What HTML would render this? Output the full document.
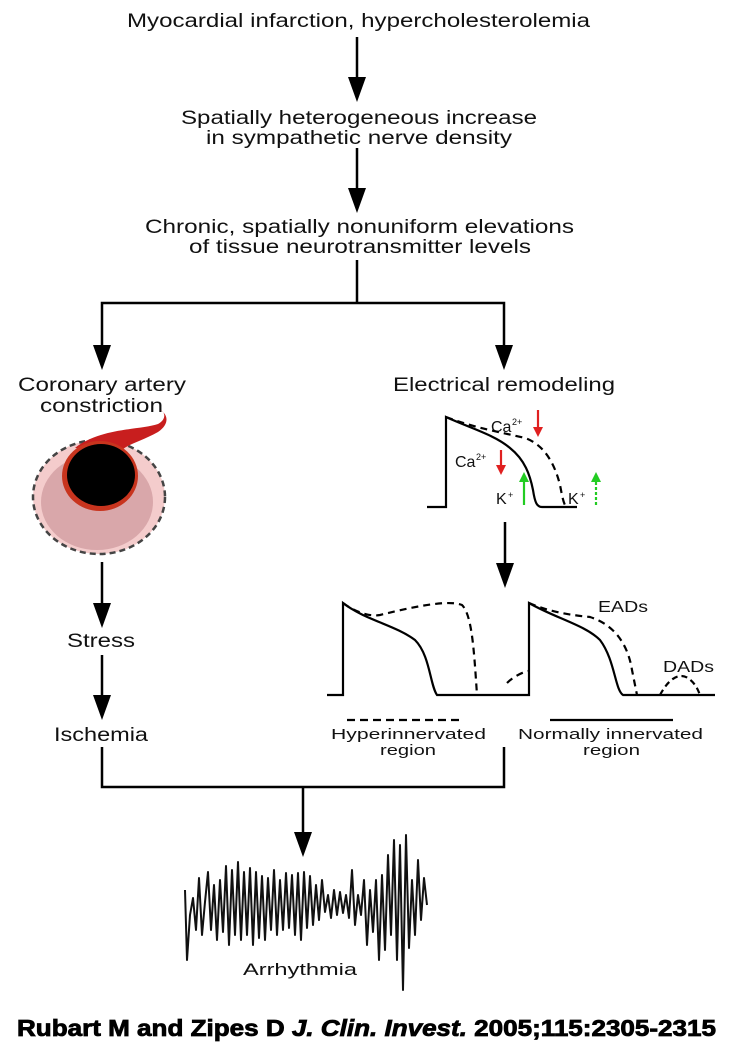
<!DOCTYPE html>
<html><head><meta charset="utf-8"><style>
html,body{margin:0;padding:0;background:#fff;}
svg{display:block;}
text{font-family:"Liberation Sans",Arial,sans-serif;fill:#111;}
</style></head><body>
<svg width="732" height="1050" viewBox="0 0 732 1050" xmlns="http://www.w3.org/2000/svg">
<g font-size="19" text-anchor="start">
<text x="127" y="27" textLength="463" lengthAdjust="spacingAndGlyphs">Myocardial infarction, hypercholesterolemia</text>
<text x="181" y="124" textLength="356" lengthAdjust="spacingAndGlyphs">Spatially heterogeneous increase</text>
<text x="206" y="144" textLength="306" lengthAdjust="spacingAndGlyphs">in sympathetic nerve density</text>
<text x="145" y="233" textLength="429" lengthAdjust="spacingAndGlyphs">Chronic, spatially nonuniform elevations</text>
<text x="189" y="253" textLength="342" lengthAdjust="spacingAndGlyphs">of tissue neurotransmitter levels</text>
<text x="18" y="391" textLength="168" lengthAdjust="spacingAndGlyphs">Coronary artery</text>
<text x="40" y="412" textLength="123" lengthAdjust="spacingAndGlyphs">constriction</text>
<text x="393" y="391" textLength="222" lengthAdjust="spacingAndGlyphs">Electrical remodeling</text>
<text x="67" y="647" textLength="68" lengthAdjust="spacingAndGlyphs">Stress</text>
<text x="54" y="741" textLength="94" lengthAdjust="spacingAndGlyphs">Ischemia</text>
</g>
<g font-size="15">
<text x="331" y="739" textLength="155" lengthAdjust="spacingAndGlyphs">Hyperinnervated</text>
<text x="380" y="755" textLength="56" lengthAdjust="spacingAndGlyphs">region</text>
<text x="518" y="739" textLength="185" lengthAdjust="spacingAndGlyphs">Normally innervated</text>
<text x="583" y="755" textLength="57" lengthAdjust="spacingAndGlyphs">region</text>
<text x="598" y="612" font-size="16" textLength="50" lengthAdjust="spacingAndGlyphs">EADs</text>
<text x="663" y="672" font-size="16" textLength="51" lengthAdjust="spacingAndGlyphs">DADs</text>
<text x="491" y="432" font-size="16">Ca</text><text x="512" y="425" font-size="9">2+</text>
<text x="455" y="467" font-size="16">Ca</text><text x="476" y="460" font-size="9">2+</text>
<text x="496" y="504" font-size="16">K</text><text x="508" y="498" font-size="9">+</text>
<text x="568" y="504" font-size="16">K</text><text x="580" y="498" font-size="9">+</text>
<text x="243" y="975" font-size="17" textLength="114" lengthAdjust="spacingAndGlyphs">Arrhythmia</text>
<text x="17" y="1036" font-size="23" font-weight="bold" textLength="699" lengthAdjust="spacingAndGlyphs" stroke="#000" stroke-width="0.8" style="fill:#000">Rubart M and Zipes D <tspan font-style="italic">J. Clin. Invest.</tspan> 2005;115:2305-2315</text>
</g>

<g stroke="#000" stroke-width="2.5" fill="none">
<line x1="357" y1="37" x2="357" y2="80"/>
<line x1="357" y1="148" x2="357" y2="190"/>
<polyline points="357,260 357,303"/>
<polyline points="102,350 102,303 504,303 504,350"/>
<line x1="102" y1="562" x2="102" y2="605"/>
<line x1="102" y1="655" x2="102" y2="697"/>
<polyline points="102,747 102,787 504,787 504,747"/>
<line x1="303" y1="787" x2="303" y2="835"/>
<line x1="505" y1="522" x2="505" y2="565"/>
</g>
<g fill="#000">
<polygon points="348,77 366,77 357,102"/>
<polygon points="348,188 366,188 357,213"/>
<polygon points="93,345 111,345 102,370"/>
<polygon points="495,345 513,345 504,370"/>
<polygon points="93,603 111,603 102,628"/>
<polygon points="93,695 111,695 102,720"/>
<polygon points="294,832 312,832 303,857"/>
<polygon points="496,563 514,563 505,588"/>
</g>

<ellipse cx="99" cy="497" rx="66" ry="57" fill="#f4cccc" stroke="#444" stroke-width="2.5" stroke-dasharray="6,4"/>
<ellipse cx="97" cy="502" rx="56" ry="48" fill="#d9a7aa"/>
<path d="M75,448 C100,428 140,430 158,424 C166,420 166,412 160,410 C168,414 170,424 158,432 C140,442 125,445 120,452 Z" fill="#c81e1e"/>
<ellipse cx="100" cy="476" rx="38" ry="35" fill="#c8341e"/>
<ellipse cx="101" cy="475" rx="34" ry="31" fill="#000"/>

<g stroke="#000" stroke-width="2.2" fill="none">
<path d="M427,507 L446,507 L446,417 C470,428 495,435 510,448 C525,460 530,475 533,490 C535,503 537,507 542,507 L577,507"/>
<path d="M446,417 C475,428 500,432 525,438 C545,445 555,465 560,485 C562,495 563,502 566,507" stroke-dasharray="7,5"/>
</g>
<g stroke-width="2.2" fill="none">
<line x1="538" y1="410" x2="538" y2="430" stroke="#e02020"/>
<line x1="501" y1="450" x2="501" y2="468" stroke="#e02020"/>
<line x1="524" y1="505" x2="524" y2="480" stroke="#22cc22"/>
<line x1="596" y1="505" x2="596" y2="480" stroke="#22cc22" stroke-dasharray="3,2"/>
</g>
<polygon points="533,427 543,427 538,437" fill="#e02020"/>
<polygon points="496,465 506,465 501,475" fill="#e02020"/>
<polygon points="519,482 529,482 524,472" fill="#22cc22"/>
<polygon points="591,482 601,482 596,472" fill="#22cc22"/>

<g stroke="#000" stroke-width="2.2" fill="none">
<path d="M327,695 L343,695 L343,603 C365,620 395,625 415,640 C430,655 430,685 437,695 L529,695 L529,603 C555,618 585,625 600,640 C615,660 615,690 623,695 L715,695"/>
<path d="M343,603 C355,612 370,617 380,615 C420,605 450,600 462,605 C472,615 474,650 477,695" stroke-dasharray="7,5"/>
<path d="M507,683 C512,678 520,673 528,671" stroke-dasharray="7,5"/>
<path d="M529,603 C550,612 570,615 590,617 C615,625 628,645 632,670 L637,695" stroke-dasharray="7,5"/>
<path d="M660,695 C668,680 678,672 688,678 C696,684 698,690 700,695" stroke-dasharray="6,4"/>
<line x1="347" y1="720" x2="463" y2="720" stroke-dasharray="8,5"/>
<line x1="550" y1="720" x2="673" y2="720"/>
</g>

<polyline fill="none" stroke="#111" stroke-width="2" stroke-linejoin="round" points="185,890 187,960 190,915 193,898 196,930 199,878 202,935 205,902 208,872 211,930 214,885 217,940 220,880 223,932 226,866 229,945 232,870 235,935 238,862 241,940 244,872 247,935 250,868 253,945 256,872 259,938 262,876 265,940 268,878 271,930 274,870 277,935 280,880 283,930 286,873 289,928 292,875 295,935 298,873 301,940 304,872 307,928 310,876 313,925 316,885 319,920 322,880 325,912 328,895 331,918 334,890 337,915 340,892 343,913 346,895 349,918 352,870 355,925 358,895 361,915 364,880 367,945 370,890 373,932 376,880 379,960 382,875 385,950 388,855 391,935 394,840 397,960 400,845 403,990 406,835 409,948 412,880 415,935 418,860 421,920 424,878 427,905"/>
</svg>
</body></html>
